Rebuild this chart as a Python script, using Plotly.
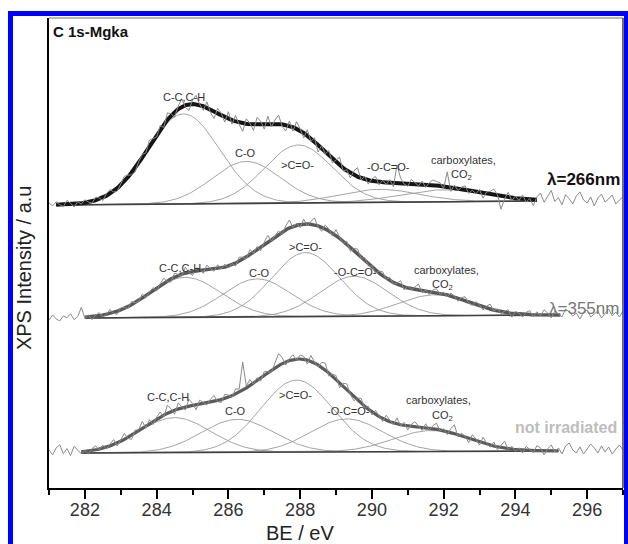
import numpy as np
import plotly.graph_objects as go

# ---------------- data ----------------
# energy grid of the measured spectra (eV)
BE_START, BE_STOP, BE_STEP = 281.0, 297.0, 0.1

# fitted components: C-C/C-H, C-O, >C=O-, -O-C=O-, carboxylates/CO2
comp_names = ["C-C,C-H", "C-O", ">C=O-", "-O-C=O-", "carboxylates"]

# lambda = 266 nm (top)
top_centers = [284.75, 286.5, 287.95, 290.2, 292.0]
top_heights = [90, 42, 58, 13, 12]
top_widths = [1.0, 0.95, 0.95, 1.1, 1.2]
top_fit_range = [281.2, 294.6]
top_baseline = [283, 287]
top_resid = ([2, -1, 3, 0, -2, 4, 1, -3, 2, -1, 3] +
             [0, -2, 3, 1, -3, 2, 4, -1, -3, 1, 5, 2, -2, -4, 1, 3, -1, 6, 2, -2] +
             [4, -3, 7, 2, -5, 3, 8, -2, -6, 4, 9, 1, -4, 6, -3, -7, 5, 2, -5, 7] +
             [-4, 6, -2, -8, 5, 1, -6, 7, 3, -5, 8, -3, 4, 9, -2, -6, 5, -4, 7, 2] +
             [-5, 6, -3, 4, -7, 3, -2, 5, -4, 2, 8, -3, 1, -5, 4, 9, -2, 3, -4, 2] +
             [5, -3, 2, -2, 3, -4, 18, 5, -1, -3, 4, 1, -2, 3, -3, 2, 5, 4, 3, -2] +
             [15, -4, 3, -2, 2, 4, -3, 1, -2, 3, -5, 2, 3, 6, 1, -13, -2, 5, -3, 2] +
             [-2, 4, -3, 1, -6, 3, 7, -2, 4, 10, -1, 3, -4, 6, 2, -3, 5, 9, 1, -2,
              4, -5, 3, 7, -1, 2, 6, -3, 1, 4])

# lambda = 355 nm (middle)
mid_centers = [284.8, 286.8, 288.15, 289.5, 291.75]
mid_heights = [40, 38, 64, 40, 21]
mid_widths = [1.0, 0.95, 0.95, 0.95, 1.0]
mid_fit_range = [282.0, 295.25]
mid_baseline = [170, 173]
mid_resid = ([-2, 3, -1, -3, 2, 0, 4, -2, 1, 10, -1] +
             [2, -3, 1, 3, -2, 0, 4, -1, -3, 2, 1, -2, 3, 0, -1, 4, -2, 1, 3, -3] +
             [2, 5, -1, -3, 4, 1, -2, 6, 0, -4, 3, 2, -3, 5, 1, -2, 4, -1, 3, -2] +
             [1, -3, 4, 2, -2, 5, -1, 3, -4, 2, 6, -2, 1, 3, -3, 4, 8, -1, 2, -3] +
             [5, -2, 3, 7, -1, -4, 4, 2, -3, 6, 1, -2, 3, -4, 2, 5, -1, 3, -2, 1] +
             [-3, 2, 4, -1, 3, -2, 1, 5, -3, 2, -1, 3, 6, -2, 1, -3, 2, 4, -1, 2] +
             [-2, 3, 1, -3, 2, 4, -1, -2, 3, 1, -3, 2, 5, -1, 2, -2, 1, 3, -4, 2] +
             [1, -3, 2, 4, -2, 3, -1, 5, 2, -3, 4, 1, -2, 6, 3, -1, 2, -4, 3, 5,
              -2, 1, 4, -3, 2, 6, -1, 3, -2, 4])

# not irradiated (bottom)
bot_centers = [284.5, 286.25, 287.9, 289.3, 291.65]
bot_heights = [35, 33, 72, 33, 21]
bot_widths = [1.0, 1.0, 1.0, 1.0, 1.05]
bot_fit_range = [281.9, 295.2]
bot_baseline = [35, 37]
bot_resid = ([3, -2, 5, 8, -1, 4, -3, 6, 2, -2, 1] +
             [-3, 2, 4, -1, 3, -2, 1, 5, -3, 2, 6, -1, -4, 3, 1, 7, -2, 4, -3, 2] +
             [5, -2, 8, 3, -4, 6, 1, -3, 7, 2, -5, 4, 1, -2, 3, 6, -1, -3, 4, 2] +
             [-2, 5, 3, 28, 2, 6, -1, 3, -3, 4, 1, -2, 5, 12, 6, -3, 2, 5, -1, 4] +
             [3, -4, 6, 1, -2, 5, 7, -3, 2, 4, -5, 3, 6, -1, -4, 2, 5, -2, 3, -3] +
             [4, 1, -3, 5, 2, -2, 6, -1, 3, -4, 2, 5, 1, -3, 4, -2, 3, 6, -1, 2] +
             [-3, 4, 9, -2, 3, 1, -4, 5, 2, -3, 6, 1, -2, 4, -3, 2, 7, -1, 3, -2] +
             [2, -3, 4, 1, -2, 5, 3, -4, 2, 6, -1, 3, -3, 5, 8, 1, -2, 4, -3, 2,
              7, 3, -2, 5, -1, 4, -3, 2, 6, 1])

x_tick_vals = [282, 284, 286, 288, 290, 292, 294, 296]

# label positions (BE, intensity) for each spectrum
top_labels = [("C-C,C-H", 284.75, 391), ("C-O", 286.47, 335), (">C=O-", 287.92, 323),
              ("-O-C=O-", 290.47, 321), ("carboxylates,", 292.56, 328), ("CO<sub>2</sub>", 292.5, 313)]
mid_labels = [("C-C,C-H", 284.64, 220), ("C-O", 286.86, 215), (">C=O-", 288.14, 241),
              ("-O-C=O-", 289.53, 216), ("carboxylates,", 292.08, 218), ("CO<sub>2</sub>", 291.97, 203)]
bot_labels = [("C-C,C-H", 284.31, 91), ("C-O", 286.19, 77), (">C=O-", 287.86, 93),
              ("-O-C=O-", 289.36, 77), ("carboxylates,", 291.86, 88), ("CO<sub>2</sub>", 291.97, 72)]

# ---------------- build figure ----------------
FONT = "Liberation Sans, Arial, sans-serif"
be = np.round(np.arange(BE_START, BE_STOP + 1e-6, BE_STEP), 2)


def gauss(x, c, h, w):
    return h * np.exp(-((x - c) ** 2) / (2 * w * w))


def baseline(x, rng, base):
    xx = np.clip(x, rng[0], rng[1])
    return base[0] + (base[1] - base[0]) * (xx - rng[0]) / (rng[1] - rng[0])


fig = go.Figure()

spectra = [
    (top_centers, top_heights, top_widths, top_fit_range, top_baseline, top_resid, "#151515", 4.0),
    (mid_centers, mid_heights, mid_widths, mid_fit_range, mid_baseline, mid_resid, "#585858", 3.5),
    (bot_centers, bot_heights, bot_widths, bot_fit_range, bot_baseline, bot_resid, "#5a5a5a", 3.2),
]

for cen, hei, wid, rng, base, resid, ecol, ew in spectra:
    assert len(resid) == len(be), len(resid)
    xf = np.linspace(rng[0], rng[1], 300)
    bl = baseline(xf, rng, base)
    # components
    for c, h, w in zip(cen, hei, wid):
        fig.add_trace(go.Scatter(x=xf, y=bl + gauss(xf, c, h, w), mode="lines",
                                 line=dict(color="#9a9a9a", width=0.9), hoverinfo="skip"))
    # baseline
    fig.add_trace(go.Scatter(x=[rng[0], rng[1]], y=[base[0], base[1]], mode="lines",
                             line=dict(color="#404040", width=1.6), hoverinfo="skip"))
    # envelope
    env = bl + sum(gauss(xf, c, h, w) for c, h, w in zip(cen, hei, wid))
    fig.add_trace(go.Scatter(x=xf, y=env, mode="lines",
                             line=dict(color=ecol, width=ew), hoverinfo="skip"))
    # raw measured data
    blr = baseline(be, rng, base)
    raw = blr + sum(gauss(be, c, h, w) for c, h, w in zip(cen, hei, wid)) + np.array(resid)
    fig.add_trace(go.Scatter(x=be, y=raw, mode="lines",
                             line=dict(color="#8a8a8a", width=1), hoverinfo="skip"))

annotations = []
for labels in (top_labels, mid_labels, bot_labels):
    for txt, x, y in labels:
        annotations.append(dict(x=x, y=y, xref="x", yref="y", text=txt, showarrow=False,
                                xanchor="center", yanchor="middle",
                                font=dict(family=FONT, size=11, color="#333333")))

annotations += [
    dict(x=295.9, y=309, xref="x", yref="y", text="<b>λ=266nm</b>", showarrow=False,
         xanchor="center", yanchor="middle", font=dict(family=FONT, size=17, color="#111111")),
    dict(x=295.92, y=180, xref="x", yref="y", text="λ=355nm", showarrow=False,
         xanchor="center", yanchor="middle", font=dict(family=FONT, size=17, color="#777777")),
    dict(x=295.42, y=61, xref="x", yref="y", text="<b>not irradiated</b>", showarrow=False,
         xanchor="center", yanchor="middle", font=dict(family=FONT, size=16, color="#bdbdbd")),
    dict(x=0.0035, y=0.972, xref="paper", yref="paper", text="<b>C 1s-Mgka</b>", showarrow=False,
         xanchor="left", yanchor="middle", font=dict(family=FONT, size=15, color="#111111")),
    dict(x=-0.0436, y=0.47, xref="paper", yref="paper", text="XPS Intensity / a.u", showarrow=False,
         textangle=-90, xanchor="center", yanchor="middle",
         font=dict(family=FONT, size=20, color="#222222")),
    dict(x=288.0, y=-0.096, xref="x", yref="paper", text="BE / eV", showarrow=False,
         xanchor="center", yanchor="middle", font=dict(family=FONT, size=20, color="#222222")),
]

shapes = [
    # top and right frame lines
    dict(type="line", xref="paper", yref="paper", x0=0, x1=1, y0=1, y1=1,
         line=dict(color="#a0a0a0", width=1.5)),
    dict(type="line", xref="paper", yref="paper", x0=1, x1=1, y0=0, y1=1,
         line=dict(color="#404040", width=1.5)),
    # blue outer border
    dict(type="rect", xref="paper", yref="paper", x0=-0.0671, x1=1.0061, y0=-0.25, y1=1.0096,
         line=dict(color="#0000ff", width=5), fillcolor="rgba(0,0,0,0)"),
]

fig.update_layout(
    width=628, height=544,
    margin=dict(l=49, r=5, t=18, b=56),
    paper_bgcolor="white", plot_bgcolor="white",
    showlegend=False,
    annotations=annotations,
    shapes=shapes,
    xaxis=dict(range=[281, 297], showline=True, linecolor="black", linewidth=1.5,
               tickmode="array", tickvals=x_tick_vals, ticks="outside", ticklen=9,
               tickwidth=1.5, tickcolor="black", ticklabelstandoff=-4,
               minor=dict(tickmode="linear", tick0=281, dtick=1, ticks="outside",
                          ticklen=5, tickwidth=1.5, tickcolor="black"),
               tickfont=dict(family=FONT, size=18, color="#333333"),
               showgrid=False, zeroline=False),
    yaxis=dict(range=[0, 470], showline=True, linecolor="black", linewidth=1.5,
               showticklabels=False, ticks="", showgrid=False, zeroline=False),
)

fig.write_html("out.html", config={"displayModeBar": False},
               post_script="document.body.style.margin='0px';document.body.style.overflow='hidden';")
